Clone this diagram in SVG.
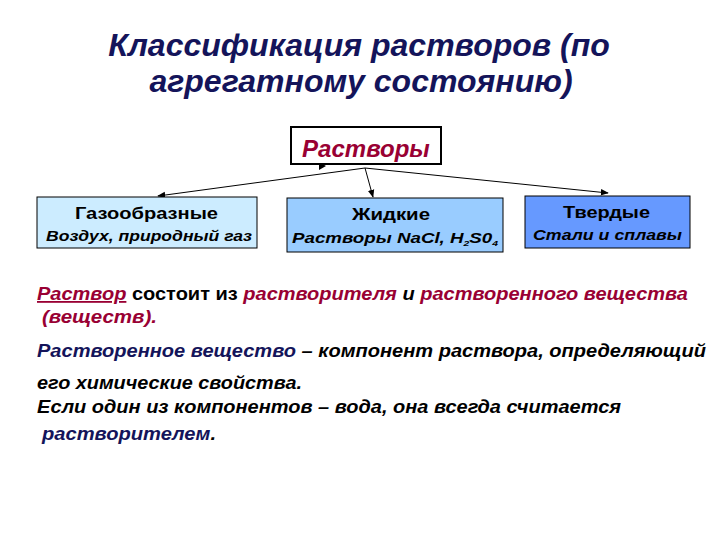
<svg xmlns="http://www.w3.org/2000/svg" width="720" height="540" viewBox="0 0 720 540">
<defs>
<marker id="ah" viewBox="0 0 10 10" refX="9" refY="5" markerWidth="8" markerHeight="8" markerUnits="userSpaceOnUse" orient="auto">
<path d="M0,1 L10,5 L0,9 z" fill="#000"/>
</marker>
</defs>
<style>
text{font-family:"Liberation Sans",Arial,sans-serif;font-weight:bold}
.t{font-size:32px;font-style:italic;fill:#14145a}
.box{stroke:#000;stroke-width:1}
.h{font-size:17px;fill:#000}
.s{font-size:15px;font-style:italic;fill:#000}
.b{font-size:18px;fill:#000}
.i{font-style:italic}
.r{fill:#990033;font-style:italic}
.n{fill:#14145a;font-style:italic}
.c line{stroke:#000;stroke-width:1;marker-end:url(#ah)}
</style>
<rect width="720" height="540" fill="#fff"/>
<g id="title">
<text class="t" x="359" y="56" text-anchor="middle">Классификация растворов (по</text>
<text class="t" x="361" y="92" text-anchor="middle">агрегатному состоянию)</text>
</g>
<g class="c" id="connectors">
<line x1="365" y1="168" x2="158" y2="196"/>
<line x1="365" y1="168" x2="373" y2="197"/>
<line x1="365" y1="168" x2="608" y2="193"/>
<path d="M319,162 L326,166 L319,170 z" fill="#000"/>
</g>
<g id="root">
<rect x="291" y="127" width="150" height="37" fill="#fff" stroke="#000" stroke-width="2"/>
<text x="366" y="157" text-anchor="middle" style="font-size:24px;font-style:italic;fill:#990033">Растворы</text>
</g>
<g id="gas">
<rect class="box" x="37" y="197" width="220" height="51" fill="#CCECFF"/>
<text class="h" x="75" y="219" textLength="143" lengthAdjust="spacingAndGlyphs">Газообразные</text>
<text class="s" x="46" y="241" textLength="206" lengthAdjust="spacingAndGlyphs">Воздух, природный газ</text>
</g>
<g id="liquid">
<rect class="box" x="287" y="198" width="216" height="54" fill="#99CCFF"/>
<text class="h" x="352" y="220" textLength="78" lengthAdjust="spacingAndGlyphs">Жидкие</text>
<text class="s" x="292" y="243" textLength="206" lengthAdjust="spacingAndGlyphs" style="font-size:14.5px">Растворы NaCl, H<tspan font-size="8" dy="3">2</tspan><tspan dy="-3">S0</tspan><tspan font-size="8" dy="3">4</tspan></text>
</g>
<g id="solid">
<rect class="box" x="525" y="196" width="165" height="52" fill="#6699FF"/>
<text class="h" x="563" y="218" textLength="87" lengthAdjust="spacingAndGlyphs">Твердые</text>
<text class="s" x="533" y="240" textLength="149" lengthAdjust="spacingAndGlyphs">Стали и сплавы</text>
</g>
<g id="body">
<text class="b" x="37" y="300" textLength="651" lengthAdjust="spacingAndGlyphs"><tspan class="r" text-decoration="underline">Раствор</tspan> состоит из <tspan class="r">растворителя</tspan><tspan class="i"> и </tspan><tspan class="r">растворенного вещества</tspan></text>
<text class="b r" x="42" y="323" textLength="115" lengthAdjust="spacingAndGlyphs">(веществ).</text>
<text class="b i" x="37" y="357" textLength="669" lengthAdjust="spacingAndGlyphs"><tspan class="n">Растворенное вещество</tspan> – компонент раствора, определяющий</text>
<text class="b i" x="37" y="389" textLength="265" lengthAdjust="spacingAndGlyphs">его химические свойства.</text>
<text class="b i" x="37" y="413" textLength="584" lengthAdjust="spacingAndGlyphs">Если один из компонентов – вода, она всегда считается</text>
<text class="b i" x="42" y="440" textLength="174" lengthAdjust="spacingAndGlyphs"><tspan class="n">растворителем</tspan>.</text>
</g>
</svg>
